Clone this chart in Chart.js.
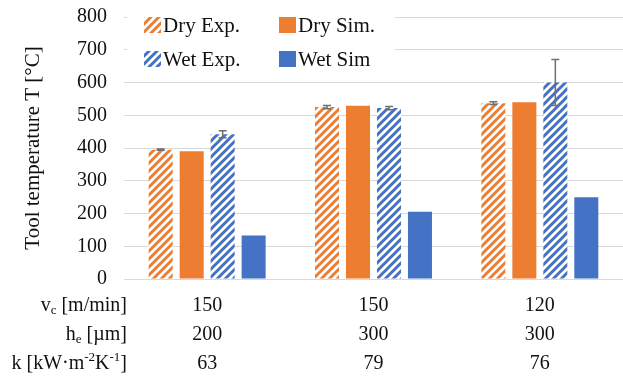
<!DOCTYPE html>
<html>
<head>
<meta charset="utf-8">
<script src="https://cdn.jsdelivr.net/npm/chart.js@4.4.1/dist/chart.umd.min.js"></script>
<style>
  html, body { margin: 0; padding: 0; background: #ffffff; }
  #wrap { width: 623px; height: 379px; }
</style>
</head>
<body>
<div id="wrap"><canvas id="c" width="623" height="379"></canvas></div>
<script>
// Process parameters per test condition (shown as table rows under the axis)
const cuttingSpeed = ['150', '150', '120'];   // v_c [m/min]
const chipThickness = ['200', '300', '300'];  // h_e [µm]
const heatTransfer = ['63', '79', '76'];      // k [kW·m^-2K^-1]

// Tool temperatures [°C]
const dryExp = [395, 525, 537];
const dryExpErr = [2, 5, 4];
const drySim = [390, 529, 540];
const wetExp = [442, 522, 600];
const wetExpErr = [11, 5, 70];
const wetSim = [133, 205, 250];

const yTicks = [0, 100, 200, 300, 400, 500, 600, 700, 800];

const ORANGE = '#ED7D31';
const BLUE = '#4472C4';
const SERIF = '"Liberation Serif", "Times New Roman", serif';
const TEXT = '#111111';
const FS = 20;

// Wide upward-diagonal hatch
function hatch(color) {
  const s = 8;
  const t = document.createElement('canvas');
  t.width = s; t.height = s;
  const g = t.getContext('2d');
  g.fillStyle = '#ffffff';
  g.fillRect(0, 0, s, s);
  g.strokeStyle = color;
  g.lineWidth = 3;
  g.lineCap = 'square';
  g.beginPath();
  g.moveTo(0, s); g.lineTo(s, 0);
  g.moveTo(-s / 2, s / 2); g.lineTo(s / 2, -s / 2);
  g.moveTo(s / 2, s * 1.5); g.lineTo(s * 1.5, s / 2);
  g.stroke();
  return document.getElementById('c').getContext('2d').createPattern(t, 'repeat');
}
const orangeHatch = hatch(ORANGE);
const blueHatch = hatch(BLUE);

const labels = cuttingSpeed.map((v, i) => [v, chipThickness[i], heatTransfer[i]]);

const X_LINE = 29;     // line spacing of the table rows
const X_PAD = 12;      // gap between plot bottom and first table row

const errorBars = {
  id: 'errorBars',
  afterDatasetsDraw(chart) {
    const ctx = chart.ctx;
    const y = chart.scales.y;
    ctx.save();
    ctx.strokeStyle = '#6f6f6f';
    ctx.lineWidth = 1.5;
    chart.data.datasets.forEach((ds, di) => {
      if (!ds.errors) return;
      const meta = chart.getDatasetMeta(di);
      meta.data.forEach((bar, i) => {
        const v = ds.data[i], e = ds.errors[i];
        const yt = y.getPixelForValue(v + e);
        const yb = y.getPixelForValue(v - e);
        const x = bar.x, w = 4;
        ctx.beginPath();
        ctx.moveTo(x, yt); ctx.lineTo(x, yb);
        ctx.moveTo(x - w, yt); ctx.lineTo(x + w, yt);
        ctx.moveTo(x - w, yb); ctx.lineTo(x + w, yb);
        ctx.stroke();
      });
    });
    ctx.restore();
  }
};

// Row headers of the parameter table, with sub/superscripts
function drawRich(ctx, parts, right, y) {
  const big = FS + 'px ' + SERIF, small = '13px ' + SERIF;
  let total = 0;
  parts.forEach(p => {
    ctx.font = p.s ? small : big;
    total += ctx.measureText(p.t).width;
  });
  let x = right - total;
  parts.forEach(p => {
    ctx.font = p.s ? small : big;
    const dy = p.s === 'sub' ? 5 : p.s === 'sup' ? -6 : 0;
    ctx.fillText(p.t, x, y + dy);
    x += ctx.measureText(p.t).width;
  });
}

const rowHeaders = {
  id: 'rowHeaders',
  afterDraw(chart) {
    const ctx = chart.ctx;
    const top = chart.chartArea.bottom + X_PAD;
    ctx.save();
    ctx.fillStyle = TEXT;
    ctx.textAlign = 'left';
    ctx.textBaseline = 'middle';
    const rows = [
      [{t: 'v'}, {t: 'c', s: 'sub'}, {t: ' [m/min]'}],
      [{t: 'h'}, {t: 'e', s: 'sub'}, {t: ' [µm]'}],
      [{t: 'k [kW·m'}, {t: '-2', s: 'sup'}, {t: 'K'}, {t: '-1', s: 'sup'}, {t: ']'}]
    ];
    rows.forEach((r, i) => drawRich(ctx, r, 127, top + X_LINE * (i + 0.5)));
    ctx.restore();
  }
};

// Two-column legend laid over the top of the plot
const boxLegend = {
  id: 'boxLegend',
  afterDraw(chart) {
    const ctx = chart.ctx;
    ctx.save();
    ctx.fillStyle = '#ffffff';
    ctx.fillRect(127, 6, 268, 70);
    const items = chart.data.datasets.map((ds, i) => ({
      text: ds.label, fill: ds.backgroundColor,
      x: i % 2 === 0 ? 144 : 279, y: i < 2 ? 17 : 51
    }));
    ctx.font = '21px ' + SERIF;
    ctx.textBaseline = 'middle';
    ctx.textAlign = 'left';
    items.forEach(it => {
      ctx.fillStyle = it.fill;
      ctx.fillRect(it.x, it.y, 17, 16);
      ctx.fillStyle = TEXT;
      ctx.fillText(it.text, it.x + 19, it.y + 9);
    });
    ctx.restore();
  }
};

new Chart(document.getElementById('c'), {
  type: 'bar',
  data: {
    labels: labels,
    datasets: [
      { label: 'Dry Exp.', data: dryExp, errors: dryExpErr, backgroundColor: orangeHatch },
      { label: 'Dry Sim.', data: drySim, backgroundColor: ORANGE },
      { label: 'Wet Exp.', data: wetExp, errors: wetExpErr, backgroundColor: blueHatch },
      { label: 'Wet Sim', data: wetSim, backgroundColor: BLUE }
    ]
  },
  options: {
    responsive: false,
    animation: false,
    devicePixelRatio: 1,
    layout: { padding: { top: 17, right: 0, bottom: 0, left: 0 } },
    datasets: { bar: { categoryPercentage: 0.745, barPercentage: 0.775, borderWidth: 0 } },
    plugins: { legend: { display: false }, tooltip: { enabled: false } },
    scales: {
      x: {
        grid: { display: false, drawTicks: false },
        border: { display: false },
        ticks: {
          color: TEXT, padding: X_PAD, maxRotation: 0,
          font: { family: SERIF, size: FS, lineHeight: X_LINE / FS }
        },
        afterFit(s) { s.height = 100; s.paddingLeft = 0; s.paddingRight = 0; }
      },
      y: {
        min: 0, max: 800,
        afterBuildTicks(s) { s.ticks = yTicks.map(v => ({ value: v })); },
        grid: { color: '#d9d9d9', lineWidth: 1, drawTicks: false },
        border: { display: false },
        ticks: { color: TEXT, padding: 17, font: { family: SERIF, size: FS } },
        title: {
          display: true, text: 'Tool temperature T [°C]', color: TEXT,
          font: { family: SERIF, size: 21 }, padding: { top: 21, bottom: 0 }
        },
        afterFit(s) { s.width = 124; s.paddingTop = 0; s.paddingBottom = 0; }
      }
    }
  },
  plugins: [errorBars, rowHeaders, boxLegend]
});
</script>
</body>
</html>
